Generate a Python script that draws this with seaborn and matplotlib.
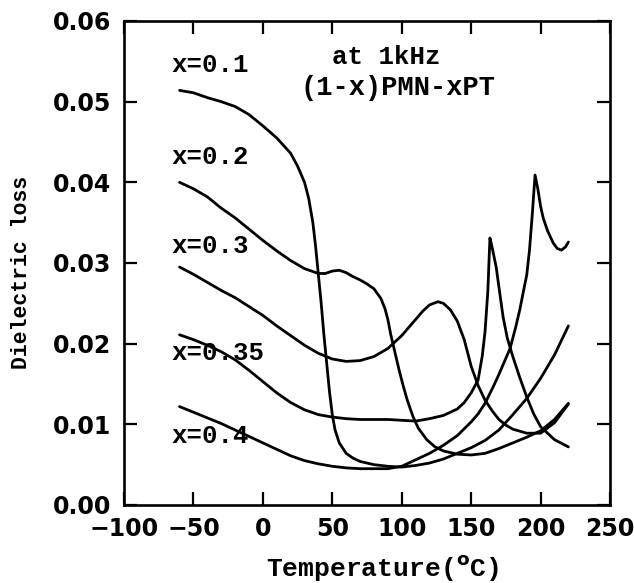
import numpy as np
import pandas as pd
import seaborn as sns
import matplotlib
matplotlib.use("Agg")
import matplotlib.pyplot as plt
from matplotlib.ticker import FormatStrFormatter

# values (temperature in C, dielectric loss)
t_01 = [-60, -50, -40, -30, -20, -10, 0, 10, 20, 25, 30, 33, 36, 38, 40, 42, 44, 46, 48, 50,
        52, 55, 60, 65, 70, 80, 90, 100, 110, 120, 130, 140, 150, 160, 170, 180, 190, 200, 210, 220]
loss_01 = [0.0514, 0.0511, 0.0505, 0.0500, 0.0494, 0.0484, 0.0470, 0.0455, 0.0436, 0.0420,
           0.0400, 0.0380, 0.0350, 0.0320, 0.0285, 0.0250, 0.0210, 0.0175, 0.0140, 0.0112,
           0.0093, 0.0077, 0.0064, 0.0058, 0.0054, 0.0050, 0.0048, 0.0047, 0.0049, 0.0052,
           0.0057, 0.0064, 0.0071, 0.0080, 0.0093, 0.0112, 0.0132, 0.0157, 0.0186, 0.0222]

t_02 = [-60, -50, -40, -30, -20, -10, 0, 10, 20, 30, 40, 45, 50, 55, 60, 65, 70, 75, 80, 85,
        88, 90, 92, 95, 98, 101, 104, 108, 112, 118, 124, 130, 140, 150, 160, 170, 180, 190,
        200, 210, 220]
loss_02 = [0.0400, 0.0392, 0.0382, 0.0368, 0.0356, 0.0342, 0.0328, 0.0315, 0.0303, 0.0293,
           0.0287, 0.0287, 0.0290, 0.0291, 0.0288, 0.0283, 0.0279, 0.0274, 0.0268, 0.0256,
           0.0243, 0.0230, 0.0212, 0.0190, 0.0168, 0.0148, 0.0130, 0.0110, 0.0095, 0.0081,
           0.0072, 0.0067, 0.0063, 0.0062, 0.0064, 0.0070, 0.0077, 0.0084, 0.0092, 0.0106,
           0.0126]

t_03 = [-60, -50, -40, -30, -20, -10, 0, 10, 20, 30, 40, 50, 60, 70, 80, 90, 100, 110, 115,
        120, 126, 130, 135, 140, 145, 150, 155, 160, 165, 170, 175, 180, 190, 200, 210, 220]
loss_03 = [0.0295, 0.0286, 0.0276, 0.0266, 0.0257, 0.0246, 0.0235, 0.0222, 0.0210, 0.0198,
           0.0188, 0.0181, 0.0178, 0.0179, 0.0184, 0.0194, 0.0210, 0.0230, 0.0240, 0.0248,
           0.0252, 0.0250, 0.0242, 0.0228, 0.0205, 0.0172, 0.0148, 0.0130, 0.0117, 0.0106,
           0.0099, 0.0094, 0.0089, 0.0089, 0.0102, 0.0125]

t_035 = [-60, -50, -40, -30, -20, -10, 0, 10, 20, 30, 40, 50, 60, 70, 80, 90, 100, 110, 120,
         130, 140, 145, 150, 155, 158, 160, 162, 163.5, 165, 168, 170, 173, 176, 180, 185, 190,
         195, 200, 210, 220]
loss_035 = [0.0211, 0.0205, 0.0198, 0.0190, 0.0180, 0.0167, 0.0153, 0.0139, 0.0127, 0.0118,
            0.0112, 0.0109, 0.0107, 0.0106, 0.0106, 0.0106, 0.0105, 0.0104, 0.0107, 0.0111,
            0.0119, 0.0127, 0.0139, 0.0155, 0.0185, 0.0215, 0.0265, 0.0331, 0.0320, 0.0295,
            0.0270, 0.0233, 0.0207, 0.0184, 0.0158, 0.0134, 0.0113, 0.0097, 0.0081, 0.0072]

t_04 = [-60, -50, -40, -30, -20, -10, 0, 10, 20, 30, 40, 50, 60, 70, 80, 90, 100, 110, 120,
        130, 140, 150, 155, 160, 166, 170, 175, 178, 182, 185, 188, 190, 192, 194, 196, 198,
        200, 202, 205, 209, 212, 215, 218, 220]
loss_04 = [0.0122, 0.0115, 0.0108, 0.0101, 0.0093, 0.0085, 0.0077, 0.0069, 0.0061, 0.0055,
           0.0051, 0.0048, 0.0046, 0.0045, 0.0045, 0.0045, 0.0048, 0.0056, 0.0064, 0.0074,
           0.0086, 0.0103, 0.0113, 0.0126, 0.0147, 0.0162, 0.0182, 0.0194, 0.0220, 0.0242,
           0.0268, 0.0285, 0.0316, 0.0360, 0.0409, 0.0392, 0.0370, 0.0355, 0.0340, 0.0325,
           0.0318, 0.0316, 0.0320, 0.0326]

labels = ["x=0.1", "x=0.2", "x=0.3", "x=0.35", "x=0.4"]
label_y = [0.0546, 0.0431, 0.0321, 0.0188, 0.0086]

curves = [(t_01, loss_01), (t_02, loss_02), (t_03, loss_03), (t_035, loss_035), (t_04, loss_04)]

sns.set_style("ticks")
plt.rcParams["font.family"] = ["DejaVu Sans"]
plt.rcParams["text.color"] = "black"
plt.rcParams["axes.labelcolor"] = "black"

fig = plt.figure(figsize=(6.34, 5.83), dpi=100)
ax = fig.add_axes([0.1956, 0.1338, 0.7666, 0.8302])

for t, l in curves:
    df = pd.DataFrame({"T": t, "loss": l})
    sns.lineplot(data=df, x="T", y="loss", ax=ax, color="black", lw=2.0, sort=False)

mono = ["Liberation Mono", "DejaVu Sans Mono"]
for lab, y in zip(labels, label_y):
    ax.text(-66, y, lab, fontsize=18.5, fontweight="bold", family=mono, va="center", ha="left",
            color="black")

ax.text(89, 0.0555, "at 1kHz", fontsize=18.5, fontweight="bold", family=mono,
        ha="center", va="center", color="black")
ax.text(97, 0.0517, "(1-x)PMN-xPT", fontsize=19.5, fontweight="bold", family=mono,
        ha="center", va="center", color="black")

ax.set_xlim(-100, 250)
ax.set_ylim(0, 0.06)
ax.set_xticks(np.arange(-100, 251, 50))
ax.set_yticks(np.arange(0, 0.061, 0.01))
ax.yaxis.set_major_formatter(FormatStrFormatter("%.2f"))
ax.tick_params(direction="in", length=9.5, width=1.6, top=True, right=True,
               labeltop=False, labelright=False, labelsize=17, colors="black")
ax.tick_params(axis="y", pad=9)
ax.tick_params(axis="x", pad=9)
for lab in ax.get_xticklabels() + ax.get_yticklabels():
    lab.set_fontweight("bold")
for s in ax.spines.values():
    s.set_linewidth(1.9)
    s.set_color("black")

ax.set_xlabel("Temperature($^{\\mathbf{o}}$C)", fontsize=19, fontweight="bold", family=mono)
ax.set_ylabel("Dielectric loss", fontsize=15.5, fontweight="bold", family=mono)
ax.xaxis.label.set_va("center")
ax.yaxis.label.set_va("center")
ax.xaxis.set_label_coords(0.531, -0.130)
ax.yaxis.set_label_coords(-0.21, 0.481)

fig.savefig("out.png", dpi=100)
